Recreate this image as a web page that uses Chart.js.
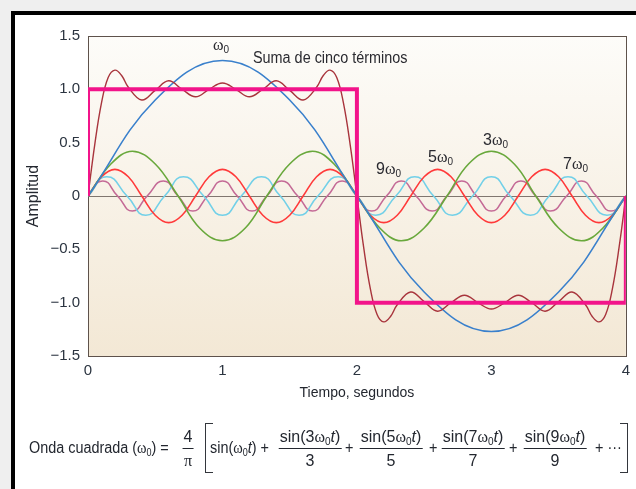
<!DOCTYPE html>
<html>
<head>
<meta charset="utf-8">
<script src="https://cdn.jsdelivr.net/npm/chart.js@4.4.0/dist/chart.umd.min.js"></script>
<style>
  html, body { margin: 0; padding: 0; }
  body {
    width: 636px; height: 489px; position: relative; overflow: hidden;
    background: #efefef;
    font-family: 'Liberation Sans', sans-serif;
    color: #23272f;
  }
  #panel {
    position: absolute; left: 11px; top: 11px; width: 640px; height: 490px;
    background: #fff; border-top: 4px solid #000; border-left: 4px solid #000;
  }
  #chart { position: absolute; left: 0; top: 0; }
  .lbl { position: absolute; font-size: 16px; line-height: 18px; white-space: nowrap; color: #2a2a30; }
  .cond { transform: scaleX(0.9); transform-origin: 0 50%; }
  .w { font-family: 'Liberation Serif', 'DejaVu Serif', serif; }
  sub { font-size: 10px; vertical-align: -3px; line-height: 0; }
  .fr {
    position: absolute; top: 428px; transform: translateX(-50%);
    display: flex; flex-direction: column; align-items: center;
    font-size: 16px; white-space: nowrap;
  }
  .fr .num { line-height: 18px; padding: 0 1px 2px; border-bottom: 1px solid #23272f; }
  .fr .den { line-height: 18px; padding-top: 3px; }
  .op { position: absolute; top: 439px; font-size: 16px; line-height: 18px; white-space: nowrap;
        transform: scaleX(0.9); transform-origin: 0 50%; }
  .brk { position: absolute; top: 423px; height: 48px; width: 7px; border: 1.5px solid #33363c; }
</style>
</head>
<body>
<div id="panel"></div>
<canvas id="chart" width="636" height="489"></canvas>

<div class="lbl" style="left:213px; top:36px;"><span class="w">ω</span><sub>0</sub></div>
<div class="lbl cond" style="left:253px; top:49px;">Suma de cinco términos</div>
<div class="lbl" style="left:483px; top:131px;">3<span class="w">ω</span><sub>0</sub></div>
<div class="lbl" style="left:428px; top:148px;">5<span class="w">ω</span><sub>0</sub></div>
<div class="lbl" style="left:376px; top:160px;">9<span class="w">ω</span><sub>0</sub></div>
<div class="lbl" style="left:563px; top:155px;">7<span class="w">ω</span><sub>0</sub></div>

<div class="op" style="left:29px;">Onda cuadrada (<span class="w">ω</span><sub>0</sub>) =</div>
<div class="fr" style="left:188px;"><div class="num">4</div><div class="den"><span class="w">π</span></div></div>
<div class="brk" style="left:205px; border-right:none;"></div>
<div class="op" style="left:210px;">sin(<span class="w">ω</span><sub>0</sub><i>t</i>) +</div>
<div class="fr" style="left:310px;"><div class="num">sin(3<span class="w">ω</span><sub>0</sub><i>t</i>)</div><div class="den">3</div></div>
<div class="op" style="left:345px;">+</div>
<div class="fr" style="left:391px;"><div class="num">sin(5<span class="w">ω</span><sub>0</sub><i>t</i>)</div><div class="den">5</div></div>
<div class="op" style="left:429px;">+</div>
<div class="fr" style="left:473px;"><div class="num">sin(7<span class="w">ω</span><sub>0</sub><i>t</i>)</div><div class="den">7</div></div>
<div class="op" style="left:509px;">+</div>
<div class="fr" style="left:555px;"><div class="num">sin(9<span class="w">ω</span><sub>0</sub><i>t</i>)</div><div class="den">9</div></div>
<div class="op" style="left:595px;">+ ···</div>
<div class="brk" style="left:620px; border-left:none;"></div>

<script>
// square wave and its first five harmonics, t in seconds
const tSquare = [0, 0, 2, 2, 4, 4];
const ySquare = [0, 1, 1, -1, -1, 0];

const tFund = [0, 0.5, 1, 1.5, 2, 2.5, 3, 3.5, 4];
const yFund = [0, 0.90, 1.27, 0.90, 0, -0.90, -1.27, -0.90, 0];

const t3 = [0, 0.17, 0.33, 0.5, 0.67, 0.83, 1, 1.17, 1.33, 1.5, 1.67, 1.83, 2,
            2.17, 2.33, 2.5, 2.67, 2.83, 3, 3.17, 3.33, 3.5, 3.67, 3.83, 4];
const y3 = [0, 0.30, 0.42, 0.30, 0, -0.30, -0.42, -0.30, 0, 0.30, 0.42, 0.30, 0,
            -0.30, -0.42, -0.30, 0, 0.30, 0.42, 0.30, 0, -0.30, -0.42, -0.30, 0];

const t5 = [0, 0.1, 0.2, 0.3, 0.4, 0.5, 0.6, 0.7, 0.8, 0.9, 1, 1.1, 1.2, 1.3, 1.4, 1.5, 1.6, 1.7, 1.8, 1.9, 2,
            2.1, 2.2, 2.3, 2.4, 2.5, 2.6, 2.7, 2.8, 2.9, 3, 3.1, 3.2, 3.3, 3.4, 3.5, 3.6, 3.7, 3.8, 3.9, 4];
const y5 = [0, 0.18, 0.25, 0.18, 0, -0.18, -0.25, -0.18, 0, 0.18, 0.25, 0.18, 0, -0.18, -0.25, -0.18, 0, 0.18, 0.25, 0.18, 0,
            -0.18, -0.25, -0.18, 0, 0.18, 0.25, 0.18, 0, -0.18, -0.25, -0.18, 0, 0.18, 0.25, 0.18, 0, -0.18, -0.25, -0.18, 0];

const t7 = [0, 0.14, 0.29, 0.43, 0.57, 0.71, 0.86, 1, 1.14, 1.29, 1.43, 1.57, 1.71, 1.86, 2,
            2.14, 2.29, 2.43, 2.57, 2.71, 2.86, 3, 3.14, 3.29, 3.43, 3.57, 3.71, 3.86, 4];
const y7 = [0, 0.18, 0, -0.18, 0, 0.18, 0, -0.18, 0, 0.18, 0, -0.18, 0, 0.18, 0,
            -0.18, 0, 0.18, 0, -0.18, 0, 0.18, 0, -0.18, 0, 0.18, 0, -0.18, 0];

const t9 = [0, 0.11, 0.22, 0.33, 0.44, 0.56, 0.67, 0.78, 0.89, 1, 1.11, 1.22, 1.33, 1.44, 1.56, 1.67, 1.78, 1.89, 2,
            2.11, 2.22, 2.33, 2.44, 2.56, 2.67, 2.78, 2.89, 3, 3.11, 3.22, 3.33, 3.44, 3.56, 3.67, 3.78, 3.89, 4];
const y9 = [0, 0.14, 0, -0.14, 0, 0.14, 0, -0.14, 0, 0.14, 0, -0.14, 0, 0.14, 0, -0.14, 0, 0.14, 0,
            -0.14, 0, 0.14, 0, -0.14, 0, 0.14, 0, -0.14, 0, 0.14, 0, -0.14, 0, 0.14, 0, -0.14, 0];

const tSum = [0, 0.05, 0.1, 0.15, 0.2, 0.25, 0.3, 0.4, 0.5, 0.6, 0.7, 0.8, 0.9, 1, 1.1, 1.2, 1.3, 1.4, 1.5, 1.6, 1.7, 1.75, 1.8, 1.85, 1.9, 1.95,
              2, 2.05, 2.1, 2.15, 2.2, 2.25, 2.3, 2.4, 2.5, 2.6, 2.7, 2.8, 2.9, 3, 3.1, 3.2, 3.3, 3.4, 3.5, 3.6, 3.7, 3.75, 3.8, 3.85, 3.9, 3.95, 4];
const ySum = [0, 0.48, 0.87, 1.11, 1.18, 1.13, 1.02, 0.90, 0.99, 1.08, 1.00, 0.93, 1.00, 1.06, 1.00, 0.93, 1.00, 1.08, 0.99, 0.90, 1.02, 1.13, 1.18, 1.11, 0.87, 0.48,
              0, -0.48, -0.87, -1.11, -1.18, -1.13, -1.02, -0.90, -0.99, -1.08, -1.00, -0.93, -1.00, -1.06, -1.00, -0.93, -1.00, -1.08, -0.99, -0.90, -1.02, -1.13, -1.18, -1.11, -0.87, -0.48, 0];

const yTicks = [-1.5, -1, -0.5, 0, 0.5, 1, 1.5];
const xTicks = [0, 1, 2, 3, 4];

const pts = (ts, ys) => ts.map((t, i) => ({ x: t, y: ys[i] }));
const FONT = "'Liberation Sans', sans-serif";

// beige gradient behind the plot, frame and zero line
const plotBack = {
    id: 'plotBack',
    beforeDraw(chart) {
        const { ctx, chartArea: a } = chart;
        const g = ctx.createLinearGradient(0, a.top, 0, a.bottom);
        g.addColorStop(0, '#fdfcf9');
        g.addColorStop(1, '#f3e8d5');
        ctx.save();
        ctx.fillStyle = g;
        ctx.fillRect(a.left, a.top, a.right - a.left, a.bottom - a.top);
        ctx.restore();
    },
    beforeDatasetsDraw(chart) {
        const { ctx, chartArea: a, scales } = chart;
        const y0 = Math.round(scales.y.getPixelForValue(0)) + 0.5;
        ctx.save();
        ctx.lineWidth = 1;
        ctx.strokeStyle = '#80766f';
        ctx.beginPath();
        ctx.moveTo(a.left, y0);
        ctx.lineTo(a.right, y0);
        ctx.stroke();
        ctx.strokeStyle = '#5e524b';
        ctx.strokeRect(Math.round(a.left) + 0.5, Math.round(a.top) + 0.5,
            Math.round(a.right - a.left), Math.round(a.bottom - a.top));
        ctx.restore();
    }
};

const line = (data, color, width, tension) => ({
    data, borderColor: color, borderWidth: width, tension,
    pointRadius: 0, fill: false
});

new Chart(document.getElementById('chart'), {
    type: 'line',
    data: {
        datasets: [
            Object.assign(line(pts(tSquare, ySquare), '#f2148a', 4, 0), { borderJoinStyle: 'miter' }),
            line(pts(tSum, ySum), '#a8343c', 1.4, 0.4),
            line(pts(tFund, yFund), '#3a80cc', 1.6, 0.4),
            line(pts(t3, y3), '#69a83c', 1.6, 0.4),
            line(pts(t5, y5), '#ff3a3a', 1.6, 0.4),
            line(pts(t7, y7), '#72d0e8', 1.6, 0.55),
            line(pts(t9, y9), '#c46a96', 1.6, 0.55)
        ]
    },
    options: {
        responsive: false,
        animation: false,
        layout: { padding: { left: 20, top: 36, right: 4, bottom: 87 } },
        plugins: { legend: { display: false }, tooltip: { enabled: false } },
        scales: {
            x: {
                type: 'linear', min: 0, max: 4,
                afterFit: s => { s.height = 46; },
                afterBuildTicks: s => { s.ticks = xTicks.map(v => ({ value: v })); },
                grid: { display: false, drawTicks: false },
                border: { display: false },
                ticks: { padding: 6, color: '#2b3440', font: { family: FONT, size: 15 } },
                title: { display: true, text: 'Tiempo, segundos', padding: 0, color: '#23272f', font: { family: FONT, size: 14 } }
            },
            y: {
                min: -1.5, max: 1.5,
                afterFit: s => { s.width = 68; },
                afterBuildTicks: s => { s.ticks = yTicks.map(v => ({ value: v })); },
                grid: { display: false, drawTicks: false },
                border: { display: false },
                ticks: {
                    padding: 8, color: '#2b3440', font: { family: FONT, size: 15 },
                    callback: v => v === 0 ? '0' : (v < 0 ? '\u2212' : '') + Math.abs(v).toFixed(1)
                },
                title: { display: true, text: 'Amplitud', padding: { top: 4 }, color: '#23272f', font: { family: FONT, size: 16 } }
            }
        }
    },
    plugins: [plotBack]
});
</script>
</body>
</html>
